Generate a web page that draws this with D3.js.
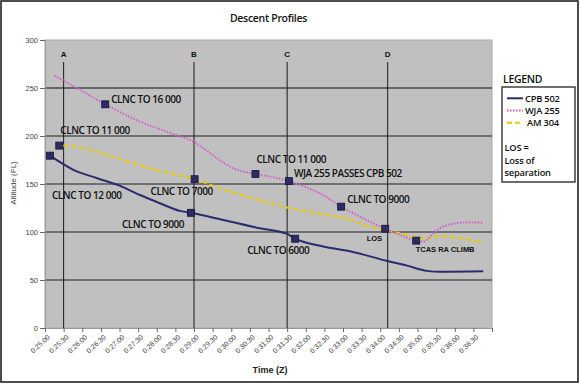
<!DOCTYPE html>
<html><head><meta charset="utf-8">
<script src="https://cdn.jsdelivr.net/npm/d3@7"></script>
<style>
html,body{margin:0;padding:0;background:#fff;}
svg{display:block;}
</style></head>
<body>
<svg id="c" width="580" height="384"></svg>
<script>
// ---------- DATA ----------
const xTickLabels = ["0:25:00","0:25:30","0:26:00","0:26:30","0:27:00","0:27:30","0:28:00","0:28:30",
  "0:29:00","0:29:30","0:30:00","0:30:30","0:31:00","0:31:30","0:32:00","0:32:30","0:33:00","0:33:30",
  "0:34:00","0:34:30","0:35:00","0:35:30","0:36:00","0:36:30"];
const yTicks = [0,50,100,150,200,250,300];
const gridValues = [50,100,150,200,250];

const cpbTimes = ["0:25:08","0:25:45","0:26:24","0:27:01","0:27:33","0:28:05","0:28:37","0:28:55","0:29:47","0:30:41","0:31:30","0:31:43","0:32:28","0:33:11","0:34:10","0:34:43","0:35:15","0:35:36","0:36:46"];
const cpbAlt   = [179.5,165,156,148,138.5,130,122,120,112.5,104.5,98,93,85,80,70,65,59.5,58.5,59];

const wjaTimes = ["0:25:15","0:25:51","0:26:37","0:27:33","0:28:27","0:29:02","0:29:20","0:29:37","0:29:58","0:30:39","0:31:08","0:31:33","0:32:01","0:32:28","0:32:57","0:33:27","0:33:49","0:34:08","0:34:32","0:34:58","0:35:09","0:35:31","0:35:52","0:36:19","0:36:45"];
const wjaAlt   = [263,250,233,215,202,193,185,177,168,160.4,157,153,146.5,138.5,126.4,116,109,103.4,97,91,90,102,108,110,110];

const amTimes  = ["0:25:16","0:25:35","0:26:12","0:27:06","0:28:00","0:28:37","0:29:01","0:29:47","0:30:41","0:31:35","0:32:28","0:33:11","0:33:27","0:34:00","0:34:32","0:34:59","0:35:15","0:35:36","0:35:58","0:36:19","0:36:45"];
const amAlt    = [189,190,185.5,175,164.5,159,155,144.5,134,124.7,118.4,113,109,103,98.6,94.5,93.4,95.8,94.5,92.4,89];

const eventTimes  = ["0:25:08","0:25:23","0:26:37","0:29:01","0:28:55","0:30:39","0:31:33","0:31:43","0:32:57","0:34:08","0:34:58"];
const eventAlt    = [179.5,190,233,155,120,160.4,153,93,126.4,103.4,91];
const eventLabels = ["CLNC TO 12 000","CLNC TO 11 000","CLNC TO 16 000","CLNC TO 7000","CLNC TO 9000",
  "CLNC TO 11 000","WJA 255 PASSES CPB 502","CLNC TO 6000","CLNC TO 9000","LOS","TCAS RA CLIMB"];

const refLineTimes  = ["0:25:30","0:29:00","0:31:30","0:34:12"];
const refLineLabels = ["A","B","C","D"];

const seriesNames = ["CPB 502","WJA 255","AM 304"];
const legendNote = ["LOS =","Loss of","separation"];

// ---------- LAYOUT / STYLE ----------
const labelOffsets = [[2,40],[1,-15],[6,-5],[-44,12.5],[-69,12],[1,-15],[5,-8],[-48,12],[6,-7],[-18.5,9.6],[-0.6,8.7]];
const smallLabel = [false,false,false,false,false,false,false,false,false,true,true];
const seriesColors = ["#2c2b6c","#d264c8","#e8c800"];
const seriesDash = [null,"1.6,1.4","5,3"];
const tickFont = "Liberation Sans, Arial, sans-serif";

const toSec = s => { const p = s.split(":").map(Number); return p[0]*3600+p[1]*60+p[2]; };

const svg = d3.select("#c");
const L=45, R=492, T=40, B=328;
const x = d3.scaleLinear().domain([toSec("0:25:00"), toSec("0:37:00")]).range([L,R]);
const y = d3.scaleLinear().domain([0,300]).range([B,T]);

// outer border
svg.append("rect").attr("x",1).attr("y",1).attr("width",577).attr("height",381)
  .attr("fill","#fff").attr("stroke","#222").attr("stroke-width",1.6);

// title
svg.append("text").attr("x",(L+R)/2).attr("y",22).attr("text-anchor","middle")
  .attr("font-family","Open Sans").attr("font-weight",600).attr("font-size",10.5)
  .attr("letter-spacing",-0.3).attr("fill","#111").text("Descent Profiles");

// plot area
svg.append("rect").attr("x",L).attr("y",T).attr("width",R-L).attr("height",B-T)
  .attr("fill","#c0c0c0").attr("stroke","#a8a8a8").attr("stroke-width",1);

// gridlines
svg.append("g").selectAll("line").data(gridValues).join("line")
  .attr("x1",L).attr("x2",R).attr("y1",d=>y(d)).attr("y2",d=>y(d))
  .attr("stroke",d=>d===250?"#666":"#1e1e1e").attr("stroke-width",d=>d===250?1.8:1);

// y axis
const yAxis = d3.axisLeft(y).tickValues(yTicks).tickSize(5).tickPadding(2);
const gy = svg.append("g").attr("transform",`translate(${L},0)`).call(yAxis);
gy.select(".domain").attr("stroke","#999");
gy.selectAll(".tick line").attr("stroke","#666");
gy.selectAll(".tick text").attr("font-family",tickFont)
  .attr("font-size",7.5).attr("fill","#444");

// x axis
const xTickVals = xTickLabels.map(toSec);
const xAxis = d3.axisBottom(x).tickValues(xTickVals.concat([toSec("0:37:00")]))
  .tickSize(4).tickFormat((d,i)=> i<xTickLabels.length ? xTickLabels[i] : "");
const gx = svg.append("g").attr("transform",`translate(0,${B})`).call(xAxis);
gx.select(".domain").attr("stroke","#999");
gx.selectAll(".tick line").attr("stroke","#666");
gx.selectAll(".tick text").attr("font-family",tickFont)
  .attr("font-size",7).attr("fill","#444")
  .attr("text-anchor","end").attr("dy",0).attr("y",0)
  .attr("transform","translate(5,10) rotate(-42)");

// axis titles
svg.append("text").attr("transform",`translate(16,183) rotate(-90)`).attr("text-anchor","middle")
  .attr("font-family",tickFont).attr("font-size",8)
  .attr("fill","#444").text("Altitude (FL)");
svg.append("text").attr("x",270).attr("y",373).attr("text-anchor","middle")
  .attr("font-family","Liberation Sans, Arial, sans-serif").attr("font-weight","bold").attr("font-size",9)
  .attr("fill","#222").text("Time (Z)");

// reference lines A-D
const refG = svg.append("g");
refG.selectAll("line").data(refLineTimes).join("line")
  .attr("x1",d=>x(toSec(d))).attr("x2",d=>x(toSec(d))).attr("y1",62).attr("y2",B)
  .attr("stroke","#1a1a1a").attr("stroke-width",1);
refG.selectAll("text").data(refLineLabels).join("text")
  .attr("x",(d,i)=>x(toSec(refLineTimes[i]))).attr("y",57).attr("text-anchor","middle")
  .attr("font-family","Liberation Sans, Arial, sans-serif").attr("font-weight","bold").attr("font-size",8)
  .attr("fill","#111").text(d=>d);

// series lines
const line = d3.line().x(d=>x(d[0])).y(d=>y(d[1])).curve(d3.curveMonotoneX);
const series = [
  d3.zip(cpbTimes.map(toSec), cpbAlt),
  d3.zip(wjaTimes.map(toSec), wjaAlt),
  d3.zip(amTimes.map(toSec), amAlt)
];
[2,1,0].forEach(i=>{
  svg.append("path").datum(series[i]).attr("d",line).attr("fill","none")
    .attr("stroke",seriesColors[i]).attr("stroke-width",2)
    .attr("stroke-dasharray",seriesDash[i]);
});

// event markers
const ev = eventTimes.map((t,i)=>({t:toSec(t), a:eventAlt[i], label:eventLabels[i], off:labelOffsets[i], small:smallLabel[i]}));
svg.append("g").selectAll("rect").data(ev).join("rect")
  .attr("x",d=>x(d.t)-3.5).attr("y",d=>y(d.a)-3.5).attr("width",7).attr("height",7)
  .attr("fill","#2d2b63").attr("stroke","#15143a").attr("stroke-width",0.8);
svg.append("g").selectAll("text").data(ev).join("text")
  .attr("x",d=>x(d.t)+d.off[0])
  .attr("y",d=>y(d.a)+d.off[1]+(d.small?2.7:3.6))
  .attr("font-family",d=>d.small?"Liberation Sans, Arial, sans-serif":"Open Sans")
  .attr("font-weight",d=>d.small?"bold":600)
  .attr("font-size",d=>d.small?7.5:10)
  .attr("letter-spacing",d=>d.small?0:-0.45)
  .attr("fill","#111").text(d=>d.label);

// legend
const lg = svg.append("g");
lg.append("text").attr("x",503).attr("y",83).attr("font-family","Open Sans").attr("font-weight",600)
  .attr("font-size",10.5).attr("letter-spacing",-0.3).attr("fill","#111").text("LEGEND");
lg.append("rect").attr("x",502).attr("y",87).attr("width",73).attr("height",95)
  .attr("fill","#fff").attr("stroke","#333").attr("stroke-width",1.4);
const legY = [98.3,110.5,122.7];
seriesNames.forEach((n,i)=>{
  lg.append("line").attr("x1",507).attr("x2",523).attr("y1",legY[i]).attr("y2",legY[i])
    .attr("stroke",seriesColors[i]).attr("stroke-width",2).attr("stroke-dasharray",seriesDash[i]);
  lg.append("text").attr("x",i===2?527:525).attr("y",legY[i]+3.3).attr("font-family","Open Sans")
    .attr("font-weight",600).attr("font-size",9.3).attr("letter-spacing",-0.2).attr("fill","#111").text(n);
});
legendNote.forEach((t,i)=>{
  lg.append("text").attr("x",504.5).attr("y",[147.7,160.2,172.7][i]+3.3).attr("font-family","Open Sans")
    .attr("font-weight",600).attr("font-size",9.3).attr("letter-spacing",-0.2).attr("fill","#111").text(t);
});
</script>
</body></html>
